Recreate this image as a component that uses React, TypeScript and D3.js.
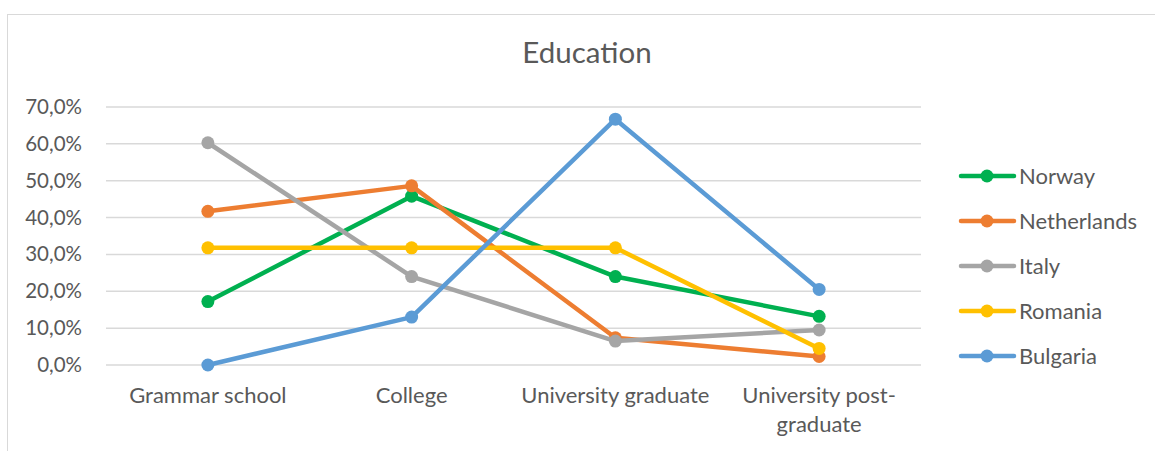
import React from "react";
import * as d3 from "d3";

const categories = ["Grammar school", "College", "University graduate", "University post-graduate"];
const categoryLines = [["Grammar school"], ["College"], ["University graduate"], ["University post-", "graduate"]];
const seriesNames = ["Norway", "Netherlands", "Italy", "Romania", "Bulgaria"];
const norway = [0.172, 0.458, 0.240, 0.132];
const netherlands = [0.417, 0.486, 0.074, 0.023];
const italy = [0.603, 0.240, 0.065, 0.095];
const romania = [0.318, 0.318, 0.318, 0.045];
const bulgaria = [0.0, 0.130, 0.667, 0.205];
const seriesValues = [norway, netherlands, italy, romania, bulgaria];
const colors = ["#00b050", "#ed7d31", "#a5a5a5", "#ffc000", "#5b9bd5"];
const yTicks = [0, 0.1, 0.2, 0.3, 0.4, 0.5, 0.6, 0.7];

const FONT = "Lato, 'Open Sans', sans-serif";
const TEXT = "#595959";

export default function App() {
  const W = 1155, H = 451;
  const x = d3.scaleBand<string>().domain(categories).range([106, 921]).padding(0);
  const cx = (c: string) => (x(c) as number) + x.bandwidth() / 2;
  const y = d3.scaleLinear().domain([0, 0.7]).range([365, 107]);
  const fmt = (v: number) => (v * 100).toFixed(1).replace(".", ",") + "%";
  const line = d3.line<number>().x((_, i) => cx(categories[i])).y((v) => y(v));
  const legendY = d3.scalePoint<string>().domain(seriesNames).range([176, 356]);

  return (
    <svg width={W} height={H} style={{ position: "absolute", left: 0, top: 0, background: "#fff" }} fontFamily={FONT}>
      <rect x={0} y={0} width={W} height={H} fill="#fff" />
      <rect x={7.5} y={14.5} width={W + 10} height={H + 10} fill="#fff" stroke="#d9d9d9" strokeWidth={1} />
      <text x={587} y={63} textAnchor="middle" fontSize={29.5} fill={TEXT}>Education</text>
      {yTicks.map((t) => (
        <g key={t}>
          <line x1={106} x2={921} y1={y(t)} y2={y(t)} stroke="#d9d9d9" strokeWidth={1.5} />
          <text x={82} y={y(t) + 7} textAnchor="end" fontSize={20.5} fill={TEXT}>{fmt(t)}</text>
        </g>
      ))}
      {categories.map((c, i) => (
        <text key={c} x={cx(c)} y={403} textAnchor="middle" fontSize={22} fill={TEXT}>
          {categoryLines[i].map((l, j) => (
            <tspan key={j} x={cx(c)} dy={j === 0 ? 0 : 29}>{l}</tspan>
          ))}
        </text>
      ))}
      {seriesValues.map((vals, s) => (
        <g key={seriesNames[s]}>
          <path d={line(vals) as string} fill="none" stroke={colors[s]} strokeWidth={4.5} strokeLinejoin="round" strokeLinecap="round" />
          {vals.map((v, i) => (
            <circle key={i} cx={cx(categories[i])} cy={y(v)} r={6.5} fill={colors[s]} />
          ))}
        </g>
      ))}
      {seriesNames.map((n, s) => {
        const ly = legendY(n) as number;
        return (
          <g key={n}>
            <line x1={961} x2={1014} y1={ly} y2={ly} stroke={colors[s]} strokeWidth={4.5} strokeLinecap="round" />
            <circle cx={987} cy={ly} r={6.5} fill={colors[s]} />
            <text x={1019} y={ly + 7.5} fontSize={22} fill={TEXT}>{n}</text>
          </g>
        );
      })}
    </svg>
  );
}
